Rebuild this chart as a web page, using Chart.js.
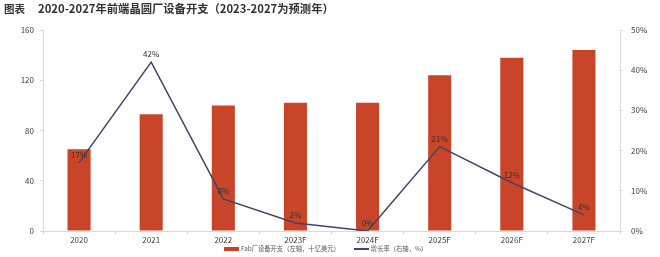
<!DOCTYPE html>
<html>
<head>
<meta charset="utf-8">
<script src="https://cdn.jsdelivr.net/npm/chart.js@4"></script>
<style>
  body { margin: 0; background: #fff; }
  #wrap { position: relative; width: 660px; height: 257px; }
  #title { position: absolute; top: 0; left: 4px; font: bold 10.5px "Noto Sans CJK SC", sans-serif; color: #333; line-height: 16px; }
  #title span { margin-left: 13px; font-size: 11.3px; }
  #legend { position: absolute; top: 243px; left: 224px; font: 6.3px "Noto Sans CJK SC", sans-serif; color: #595959; line-height: 12px; white-space: nowrap; }
  #legend .item { display: inline-block; margin-right: 14px; }
  #legend .swatch { display: inline-block; width: 15px; vertical-align: middle; margin-right: 2px; }
</style>
</head>
<body>
<div id="wrap">
  <div id="title">图表<span>2020-2027年前端晶圆厂设备开支（2023-2027为预测年）</span></div>
  <canvas id="chart" width="660" height="257"></canvas>
  <div id="legend"></div>
</div>
<script>
const categories = ['2020', '2021', '2022', '2023F', '2024F', '2025F', '2026F', '2027F'];
const spending = [65, 93, 100, 102, 102, 124, 138, 144];
const growth = [17, 42, 8, 2, 0, 21, 12, 4];

const fontFamily = '"Noto Sans CJK SC", sans-serif';
const barColor = '#C8452A';
const lineColor = '#43436A';

const labelPlugin = {
    id: 'growthLabels',
    afterDatasetsDraw(chart) {
        const ctx = chart.ctx;
        const meta = chart.getDatasetMeta(1);
        ctx.save();
        ctx.font = '8px ' + fontFamily;
        ctx.fillStyle = '#333';
        ctx.textAlign = 'center';
        ctx.textBaseline = 'bottom';
        meta.data.forEach((pt, i) => {
            ctx.fillText(growth[i] + '%', pt.x, pt.y - 4);
        });
        ctx.restore();
    }
};

const chart = new Chart(document.getElementById('chart'), {
    data: {
        labels: categories,
        datasets: [
            {
                type: 'bar',
                label: 'Fab厂设备开支（左轴，十亿美元）',
                data: spending,
                backgroundColor: barColor,
                barPercentage: 0.32,
                categoryPercentage: 1,
                yAxisID: 'y',
                order: 2
            },
            {
                type: 'line',
                label: '增长率（右轴，%）',
                data: growth,
                borderColor: lineColor,
                backgroundColor: lineColor,
                borderWidth: 1.5,
                pointRadius: 0,
                tension: 0,
                yAxisID: 'y1',
                order: 1
            }
        ]
    },
    options: {
        responsive: false,
        animation: false,
        layout: { padding: { top: 30, left: 0, right: 0, bottom: 13 } },
        plugins: {
            tooltip: { enabled: false },
            legend: { display: false }
        },
        scales: {
            x: {
                grid: { display: true, drawOnChartArea: false, tickLength: 3, color: '#d9d9d9' },
                border: { color: '#d9d9d9' },
                ticks: { font: { size: 8, family: fontFamily }, color: '#404040', padding: 1 },
                afterFit(scale) { scale.height = 13; }
            },
            y: {
                position: 'left',
                min: 0,
                max: 160,
                ticks: { stepSize: 40, font: { size: 8, family: fontFamily }, color: '#404040', padding: 6 },
                grid: { display: true, drawOnChartArea: false, tickLength: 3, color: '#d9d9d9' },
                border: { color: '#d9d9d9' },
                afterFit(scale) { scale.width = 43; }
            },
            y1: {
                position: 'right',
                min: 0,
                max: 50,
                ticks: {
                    stepSize: 10,
                    font: { size: 8, family: fontFamily },
                    color: '#404040',
                    padding: 8,
                    callback: v => v + '%'
                },
                grid: { display: true, drawOnChartArea: false, tickLength: 3, color: '#d9d9d9' },
                border: { color: '#d9d9d9' },
                afterFit(scale) { scale.width = 40; }
            }
        }
    },
    plugins: [labelPlugin]
});

// html legend built from the datasets
const legend = document.getElementById('legend');
chart.data.datasets.forEach(ds => {
    const item = document.createElement('span');
    item.className = 'item';
    const sw = document.createElement('span');
    sw.className = 'swatch';
    sw.style.height = ds.type === 'line' ? '2px' : '4px';
    sw.style.background = ds.type === 'line' ? ds.borderColor : ds.backgroundColor;
    item.appendChild(sw);
    item.appendChild(document.createTextNode(ds.label));
    legend.appendChild(item);
});
</script>
</body>
</html>
